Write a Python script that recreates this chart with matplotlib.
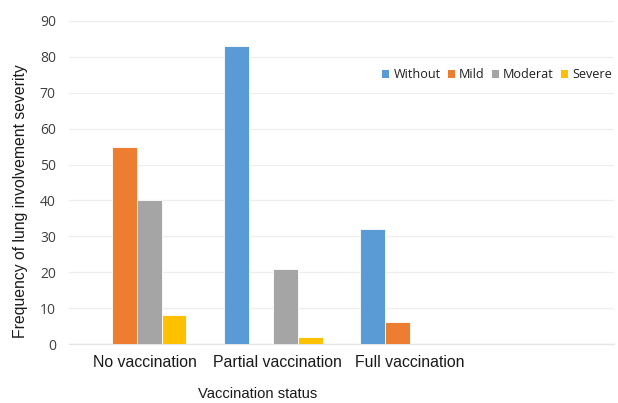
import matplotlib
matplotlib.use("Agg")
import matplotlib.pyplot as plt
import matplotlib.transforms as mtransforms
from matplotlib.patches import Patch
import numpy as np

# Data
categories = ["No vaccination", "Partial vaccination", "Full vaccination", ""]
severity_levels = ["Without", "Mild", "Moderat", "Severe"]
without = [0, 83, 32, 0]
mild = [55, 0, 6, 0]
moderat = [40, 21, 0, 0]
severe = [8, 2, 0, 0]
yticks = [0, 10, 20, 30, 40, 50, 60, 70, 80, 90]

series = [without, mild, moderat, severe]
colors = ["#5B9BD5", "#ED7D31", "#A5A5A5", "#FFC000"]

W, H = 618, 403
fig = plt.figure(figsize=(W / 100, H / 100), dpi=100)
ax = fig.add_axes([69 / W, 1 - 344 / H, (614 - 69) / W, (344 - 21) / H])

x = np.arange(len(categories))
bar_w = 0.181
offsets = (np.arange(len(series)) - 1.5) * bar_w
for vals, off, col, name in zip(series, offsets, colors, severity_levels):
    ax.bar(x + off, vals, width=bar_w, color=col, edgecolor="white",
           linewidth=0.6, label=name, zorder=3)

ax.set_xlim(-0.5, len(categories) - 0.5)
ax.set_ylim(0, 90)
ax.set_yticks(yticks)
ax.set_yticklabels([str(v) for v in yticks], fontfamily="Open Sans",
                   fontsize=10, color="#404040")
ax.set_xticks(x)
ax.set_xticklabels(categories, fontfamily="Liberation Sans", fontsize=11.4,
                   color="#1a1a1a")
ax.tick_params(axis="both", length=0)
ax.tick_params(axis="y", pad=9.5)
ax.tick_params(axis="x", pad=8)

# Excel-style category label placement
label_shift_px = [7.5, 3.8, 0.0, 0.0]
for lbl, dx in zip(ax.get_xticklabels(), label_shift_px):
    lbl.set_transform(lbl.get_transform() +
                      mtransforms.ScaledTranslation(dx / 100, 0, fig.dpi_scale_trans))

ax.grid(axis="y", color="#EEEEEE", linewidth=0.9, zorder=0)
for side in ("top", "right", "left"):
    ax.spines[side].set_visible(False)
ax.spines["bottom"].set_color("#E4E4E4")
ax.spines["bottom"].set_linewidth(0.9)

fig.text(21 / W, 1 - 201 / H, "Frequency of lung involvement severity",
         rotation=90, ha="center", va="center", fontfamily="Liberation Sans",
         fontsize=11.3, color="#1a1a1a")
fig.text(258 / W, 1 - 394 / H, "Vaccination status", ha="center", va="center",
         fontfamily="Liberation Sans", fontsize=10.6, color="#1a1a1a")

handles = [Patch(facecolor=c, edgecolor="none") for c in colors]
fig.legend(handles, severity_levels, loc="center",
           bbox_to_anchor=(497 / W, 1 - 75 / H), ncol=4, frameon=False,
           prop={"family": "Open Sans", "size": 9.1},
           handlelength=0.55, handleheight=0.55, handletextpad=0.35,
           columnspacing=0.55, labelcolor="#1f1f1f")

fig.savefig("out.png", dpi=100)
